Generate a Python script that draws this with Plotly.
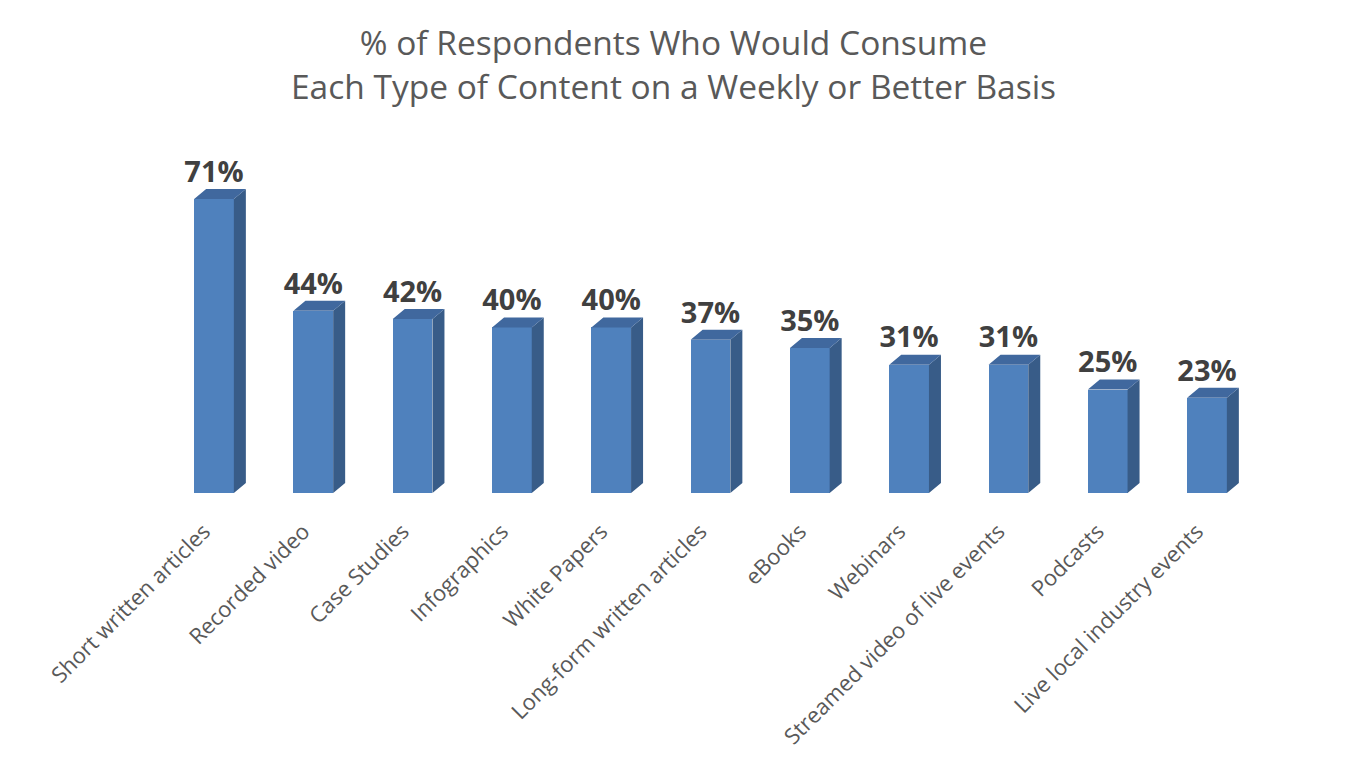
import plotly.graph_objects as go

categories = ["Short written articles", "Recorded video", "Case Studies", "Infographics",
              "White Papers", "Long-form written articles", "eBooks", "Webinars",
              "Streamed video of live events", "Podcasts", "Live local industry events"]
values = [71, 44, 42, 40, 40, 37, 35, 31, 31, 25, 23]
labels = [f"{v}%" for v in values]

W, H = 1347, 768
base_px = 493
px_per_x = 99.3
first_px = 214
px_per_y = 4.14
top_px = 120

bw = 0.40            # front face width (x units)
dx = 12 / px_per_x   # depth offset in x units
dy = 10 / px_per_y   # depth offset in y units

xs = list(range(len(categories)))

side_x, side_y, top_x, top_y = [], [], [], []
for x, v in zip(xs, values):
    r = x + bw / 2
    l = x - bw / 2
    side_x += [r, r + dx, r + dx, r, r, None]
    side_y += [0, dy, v + dy, v, 0, None]
    top_x += [l, r, r + dx, l + dx, l, None]
    top_y += [v, v, v + dy, v + dy, v, None]

fig = go.Figure()
fig.add_trace(go.Bar(x=xs, y=values, width=bw, marker=dict(color="#4F81BD", line=dict(width=0)),
                     hoverinfo="skip"))
fig.add_trace(go.Scatter(x=side_x, y=side_y, mode="lines", fill="toself", fillcolor="#385C88",
                         line=dict(width=0, color="#385C88"), hoverinfo="skip"))
fig.add_trace(go.Scatter(x=top_x, y=top_y, mode="lines", fill="toself", fillcolor="#40689E",
                         line=dict(width=0, color="#40689E"), hoverinfo="skip"))
fig.add_trace(go.Scatter(x=xs, y=[v + dy for v in values], mode="text", text=labels,
                         textposition="top center",
                         textfont=dict(family="Open Sans", size=29, color="#404040", weight="bold"),
                         hoverinfo="skip"))

fig.update_layout(
    width=W, height=H,
    margin=dict(l=0, r=0, t=top_px, b=H - base_px),
    paper_bgcolor="white", plot_bgcolor="white",
    showlegend=False,
    title=dict(text="% of Respondents Who Would Consume<br>Each Type of Content on a Weekly or Better Basis",
               x=0.5, xanchor="center", y=0.928, yanchor="top",
               font=dict(family="Open Sans", size=33.5, color="#595959")),
    xaxis=dict(range=[-first_px / px_per_x, (W - first_px) / px_per_x],
               tickmode="array", tickvals=xs, ticktext=categories, tickangle=-45,
               ticks="outside", ticklen=16, tickcolor="rgba(0,0,0,0)",
               ticklabelshift=-10,
               tickfont=dict(family="Open Sans", size=22, color="#595959"),
               showgrid=False, zeroline=False, showline=False),
    yaxis=dict(range=[0, (base_px - top_px) / px_per_y], visible=False, showgrid=False),
    bargap=0,
)
fig.write_html("out.html")
